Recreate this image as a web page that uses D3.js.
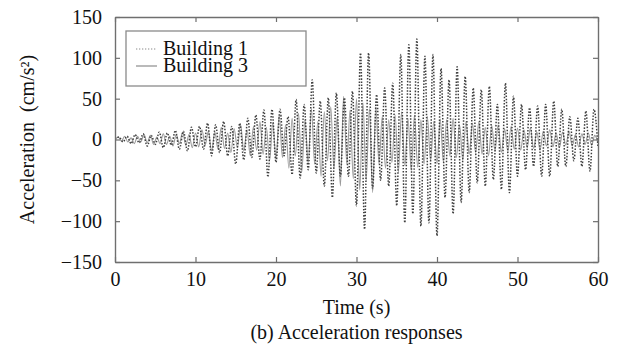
<!DOCTYPE html>
<html>
<head>
<meta charset="utf-8">
<script src="https://cdn.jsdelivr.net/npm/d3@7/dist/d3.min.js"></script>
<style>
  html, body { margin: 0; padding: 0; background: #fff; }
  svg text { font-family: "Liberation Serif", "Times New Roman", Times, "DejaVu Serif", "Noto Serif", serif; fill: #111; }
</style>
</head>
<body>
<svg id="chart" width="618" height="354"></svg>
<script>
// Time axis (s) and acceleration axis (cm/s^2)
const xTicks = [0, 10, 20, 30, 40, 50, 60];
const yTicks = [-150, -100, -50, 0, 50, 100, 150];
const seriesNames = ["Building 1", "Building 3"];

// Building 1: response sampled every 0.5 s (peaks and troughs), t = 0 .. 60 s
const b1Step = 0.5;
const building1 = [
  0, 3, -3, 4, -5, 6, -4, 7, -8, 5, -6, 9, -10, 8, -7, 11, -12, 10, -14, 15,
  -9, 16, -12, 20, -20, 18, -16, 22, -20, 16, -30, 20, -25, 26, -22, 30, -24, 36, -46, 37,
  -28, 37, -20, 28, -43, 49, -47, 43, -37, 73, -41, 47, -57, 51, -71, 57, -45, 51, -45, 59,
  -81, 106, -110, 106, -60, 55, -50, 63, -57, 69, -81, 104, -102, 116, -91, 123, -106, 102, -102, 104,
  -118, 87, -71, 73, -91, 89, -77, 77, -65, 63, -53, 61, -57, 65, -49, 43, -61, 69, -65, 53,
  -45, 43, -37, 39, -33, 41, -45, 43, -45, 47, -33, 37, -33, 28, -26, 26, -33, 35, -39, 37,
  -10
];

// Building 3: response sampled every 0.4 s, t = 0 .. 60 s
const b3Step = 0.4;
const building3 = [
  0, 3, -2, 4, -3, 2, -5, 4, -3, 6, -4, 5, -6, 3, -5, 7, -6, 4, -8, 6, -5, 9, -7, 6, -10, 8,
  -9, 12, -7, 10, -14, 9, -12, 15, -11, 8, -16, 13, -10, 18, -14, 12, -20, 16, -13, 22, -18, 15, -26, 20, -24,
  30, -22, 18, -35, 26, -20, 32, -40, 24, -28, 38, -30, 22, -45, 34, -26, 40, -36, 28, -57, 53, -30, 36, -48, 50,
  -62, 45, -50, 38, -65, 40, -30, 28, -35, 24, -28, 30, -40, 34, -32, 26, -38, 30, -34, 24, -30, 28, -26, 22, -30,
  25, -28, 24, -20, 26, -22, 18, -25, 22, -18, 20, -16, 22, -18, 15, -20, 17, -14, 18, -16, 13, -15, 16, -12, 14,
  -13, 12, -10, 14, -11, 9, -13, 10, -8, 12, -9, 8, -10, 9, -7, 10, -8, 6, -9, 7, -6, 8, -7, 5, -4
];

const svg = d3.select("#chart");
const plot = { left: 115, right: 598, top: 17, bottom: 262 };
const fontStack = "'Liberation Serif', 'Times New Roman', Times, 'DejaVu Serif', 'Noto Serif', serif";

const x = d3.scaleLinear().domain([0, 60]).range([plot.left, plot.right]);
const y = d3.scaleLinear().domain([-150, 150]).range([plot.bottom, plot.top]);

const axisColor = "#6f6f6f";

// Smooth response curves through the sampled values
const line = step => d3.line()
  .x((d, i) => x(i * step))
  .y(d => y(d))
  .curve(d3.curveMonotoneX);

svg.append("clipPath").attr("id", "plotClip")
  .append("rect")
  .attr("x", plot.left).attr("y", plot.top)
  .attr("width", plot.right - plot.left).attr("height", plot.bottom - plot.top);

const g = svg.append("g").attr("clip-path", "url(#plotClip)");

g.append("path")
  .datum(building3)
  .attr("d", line(b3Step))
  .attr("fill", "none")
  .attr("stroke", "#9a9a9a")
  .attr("stroke-width", 1.1);

g.append("path")
  .datum(building1)
  .attr("d", line(b1Step))
  .attr("fill", "none")
  .attr("stroke", "#3e3e3e")
  .attr("stroke-width", 1.5)
  .attr("stroke-dasharray", "1.5,1.6");

// Axes with inward ticks on all four sides
function styleAxis(sel) {
  sel.attr("font-family", fontStack);
  sel.select(".domain").attr("stroke", axisColor).attr("stroke-width", 1.4);
  sel.selectAll(".tick line").attr("stroke", axisColor).attr("stroke-width", 1.2);
  sel.selectAll("text").attr("font-size", 20).attr("fill", "#111")
    .style("font-family", fontStack);
}

svg.append("g")
  .attr("transform", `translate(0,${plot.bottom})`)
  .call(d3.axisBottom(x).tickValues(xTicks).tickSizeInner(-5).tickSizeOuter(0).tickPadding(10))
  .call(styleAxis);

svg.append("g")
  .attr("transform", `translate(0,${plot.top})`)
  .call(d3.axisTop(x).tickValues(xTicks).tickSizeInner(-5).tickSizeOuter(0).tickFormat(""))
  .call(styleAxis);

svg.append("g")
  .attr("transform", `translate(${plot.left},0)`)
  .call(d3.axisLeft(y).tickValues(yTicks).tickSizeInner(-5).tickSizeOuter(0).tickPadding(13))
  .call(styleAxis);

svg.append("g")
  .attr("transform", `translate(${plot.right},0)`)
  .call(d3.axisRight(y).tickValues(yTicks).tickSizeInner(-5).tickSizeOuter(0).tickFormat(""))
  .call(styleAxis);

// Axis titles and caption
const title = (sel) => sel.attr("font-size", 20).style("font-family", fontStack).attr("text-anchor", "middle");

svg.append("text")
  .attr("transform", `translate(27,${(plot.top + plot.bottom) / 2}) rotate(-90)`)
  .attr("dominant-baseline", "central")
  .call(title)
  .text("Acceleration\u00a0\u00a0(cm/s\u00b2)");

svg.append("text")
  .attr("x", x(30)).attr("y", 314)
  .call(title)
  .text("Time (s)");

svg.append("text")
  .attr("x", x(30)).attr("y", 339)
  .call(title)
  .text("(b) Acceleration responses");

// Legend
const legend = svg.append("g");
legend.append("rect")
  .attr("x", 126).attr("y", 31).attr("width", 180).attr("height", 55)
  .attr("fill", "#fff").attr("stroke", "#8a8a8a").attr("stroke-width", 1.3);

const legendStyles = [
  { stroke: "#8a8a8a", dash: "1.3,1.7", width: 1.2 },
  { stroke: "#8c8c8c", dash: null, width: 1.2 }
];
seriesNames.forEach((name, i) => {
  const cy = 49 + i * 17;
  legend.append("line")
    .attr("x1", 136).attr("x2", 157).attr("y1", cy).attr("y2", cy)
    .attr("stroke", legendStyles[i].stroke)
    .attr("stroke-width", legendStyles[i].width)
    .attr("stroke-dasharray", legendStyles[i].dash);
  legend.append("text")
    .attr("x", 163).attr("y", cy + 6)
    .attr("font-size", 20)
    .style("font-family", fontStack)
    .text(name);
});
</script>
</body>
</html>
